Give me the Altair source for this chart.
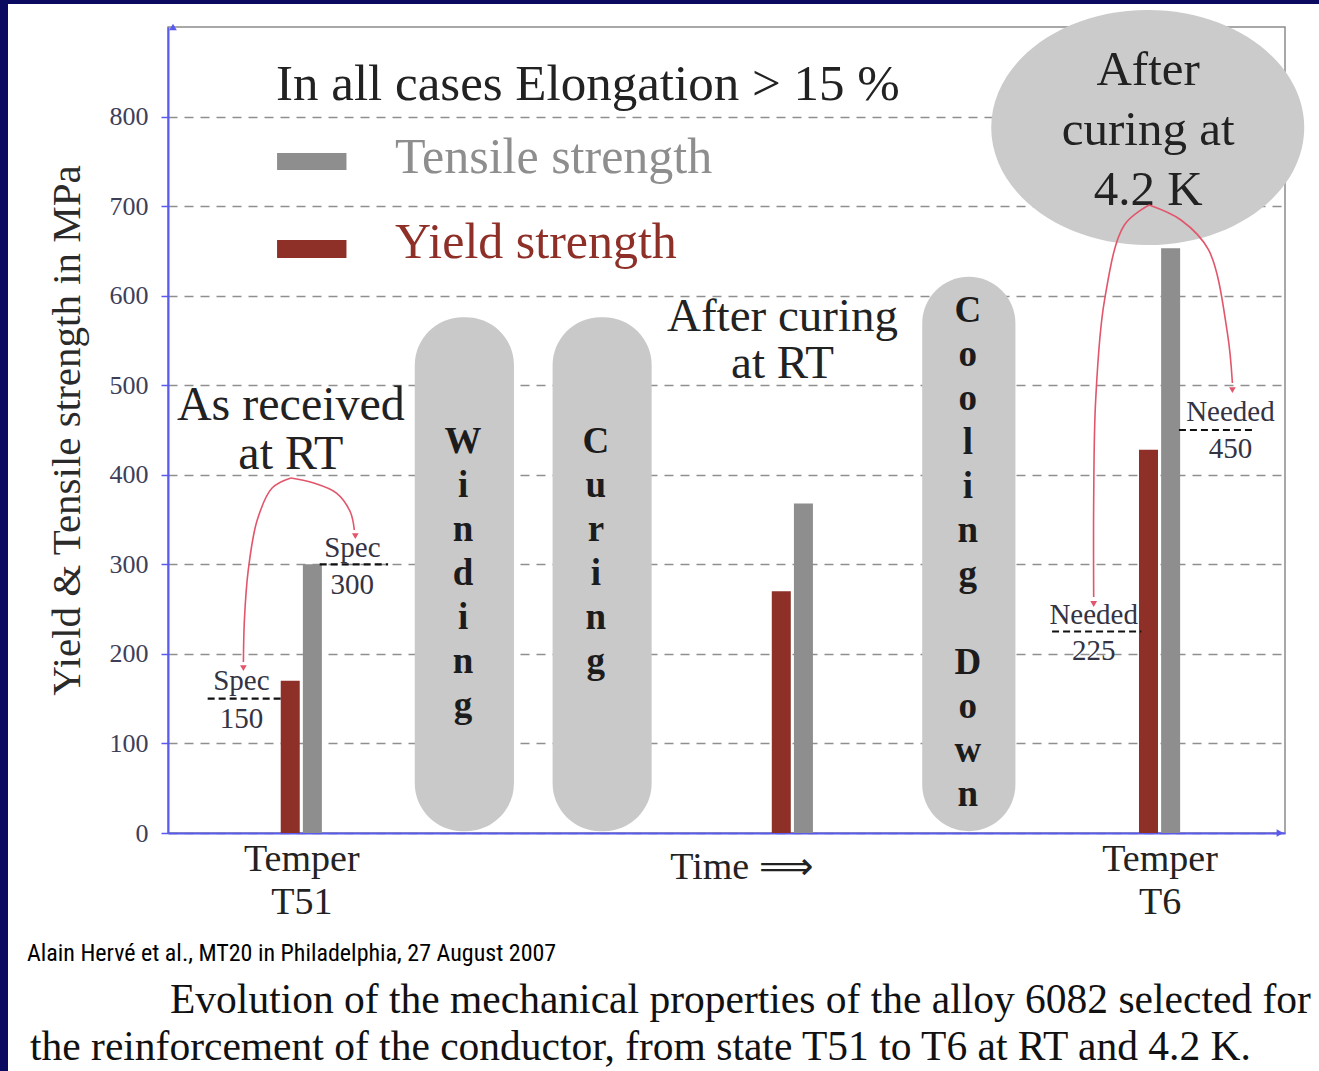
import json

import altair as alt
import pandas as pd

# ---------------------------------------------------------------------------
# Mechanical properties of alloy 6082 along the conductor manufacturing route
# ---------------------------------------------------------------------------
stage_names = ["Temper T51", "After curing at RT", "Temper T6"]
stage_time = [1.159, 5.595, 8.912]          # position on the time axis
yield_mpa = [170, 270, 428]
tensile_mpa = [300, 368, 653]

series_names = ["Yield strength", "Tensile strength"]
series_colors = ["#8e2f28", "#8e8e8e"]
series_text_colors = ["#8e2f2a", "#8c8c8c"]
bar_shift = [-0.1, 0.1]

tick_labels = {"T51": ["Temper", "T51"], "T6": ["Temper", "T6"]}
y_ticks = [0, 100, 200, 300, 400, 500, 600, 700, 800]

# Specification / requirement levels (MPa)
req_word = ["Spec", "Spec", "Needed", "Needed"]
req_value = [150, 300, 225, 450]
req_from = [0.313, 1.325, 7.941, 9.087]
req_to = [1.003, 1.943, 8.747, 9.776]
req_text_t = [0.618, 1.620, 8.317, 9.552]
req_word_v = [159.7, 308.2, 233.4, 460.0]
req_num_v = [117.2, 266.9, 193.2, 418.7]

# Process steps between the measurements
step_names = ["Winding", "Curing", "Cooling Down"]
step_t0 = [2.184, 3.429, 6.768]
step_t1 = [3.080, 4.324, 7.610]
step_top = [576, 576, 621]

# Words written letter by letter inside the step pills
step_words = ["Winding", "Curing", "Cooling", "Down"]
word_t = [2.62, 3.82, 7.18, 7.18]
word_v = [424.3, 424.3, 570.6, 177.5]

# Stage captions
stage_captions = ["As received\nat RT", "After curing\nat RT", "After\ncuring at\n4.2 K"]
caption_t = [1.065, 5.506, 8.809]
caption_v = [461.1, 560.5, 835.2]
caption_size = [48, 47, 49]
caption_line_height = [49, 47, 60]

bubble_t, bubble_v = 8.805, 787.7

# Legend block
legend_title = "In all cases Elongation > 15 %"
legend_title_t, legend_title_v = 0.931, 818.4
legend_text_t = [2.005, 2.005]
legend_text_v = [642.0, 736.9]
swatch_t0, swatch_t1 = 0.940, 1.567
swatch_v0 = [642.0, 740.3]
swatch_v1 = [662.1, 759.3]

# Red pointer curves (from the captions to the requirement levels)
arrow_id = [1] * 6 + [2] * 5 + [3] * 6 + [4] * 5
arrow_t = [1.065, 0.895, 0.761, 0.680, 0.645, 0.636,
           1.065, 1.271, 1.477, 1.602, 1.638,
           8.818, 8.594, 8.415, 8.335, 8.317, 8.317,
           8.818, 9.105, 9.355, 9.525, 9.570]
arrow_v = [396.4, 385.2, 349.5, 293.7, 237.8, 190.9,
           396.4, 390.8, 379.6, 358.4, 338.3,
           701.2, 678.9, 595.1, 483.5, 371.8, 263.5,
           701.2, 684.5, 651.0, 558.3, 502.5]
tip_t = [0.636, 1.647, 8.317, 9.570]
tip_v = [184.2, 331.6, 255.7, 494.6]

footer_note = "Alain Hervé et al., MT20 in Philadelphia, 27 August 2007"
caption_lines = [
    "Evolution of the mechanical properties of the alloy 6082 selected for",
    "the reinforcement of the conductor, from state T51 to T6 at RT and 4.2 K.",
]

SERIF = "Liberation Serif"
INK = "#222222"
AXIS_BLUE = "#5a5aee"
ARROW_RED = "#e2566c"
PILL_GREY = "#c9c9c9"
NAVY = "#0a0a60"

X_SCALE = alt.Scale(domain=[0, 10], nice=False, zero=False)
Y_SCALE = alt.Scale(domain=[0, 900], nice=False, zero=False)

label_expr = (
    f"datum.value < {stage_time[1]} ? {json.dumps(tick_labels['T51'])} "
    f": {json.dumps(tick_labels['T6'])}"
)

X_AXIS = alt.Axis(
    values=[stage_time[0], stage_time[2]],
    labelExpr=label_expr,
    grid=False,
    ticks=False,
    tickSize=0,
    domainColor=AXIS_BLUE,
    domainWidth=2,
    labelFont=SERIF,
    labelFontSize=38,
    labelLineHeight=43,
    labelPadding=7,
    labelColor=INK,
    labelOverlap=False,
    labelFlush=False,
    title="Time ⟹",
    titleFont=SERIF,
    titleFontSize=38,
    titleFontWeight="normal",
    titleColor=INK,
    titleX=573,
    titleY=45,
    titleBaseline="alphabetic",
)

Y_AXIS = alt.Axis(
    values=y_ticks,
    grid=True,
    gridDash=[9, 7],
    gridColor="#8f8f8f",
    gridWidth=1.3,
    domainColor=AXIS_BLUE,
    domainWidth=2,
    tickColor=AXIS_BLUE,
    tickSize=7,
    tickWidth=1.5,
    labelFont=SERIF,
    labelFontSize=26,
    labelColor="#3e3e58",
    labelPadding=13,
    title="Yield & Tensile strength in MPa",
    titleFont=SERIF,
    titleFontSize=41,
    titleFontWeight="normal",
    titleColor="#2a2a2a",
    titlePadding=21,
)


def xq(field):
    return alt.X(f"{field}:Q", scale=X_SCALE, axis=X_AXIS)


def yq(field):
    return alt.Y(f"{field}:Q", scale=Y_SCALE, axis=Y_AXIS)


# --- bars -------------------------------------------------------------------
bar_rows = []
for i, stage in enumerate(stage_names):
    for j, series in enumerate(series_names):
        bar_rows.append({
            "stage": stage,
            "series": series,
            "t": stage_time[i] + bar_shift[j],
            "v": (yield_mpa if j == 0 else tensile_mpa)[i],
        })
bars_df = pd.DataFrame(bar_rows)

bars = alt.Chart(bars_df).mark_bar(size=19).encode(
    x=xq("t"),
    y=yq("v"),
    color=alt.Color(
        "series:N",
        scale=alt.Scale(domain=series_names, range=series_colors),
        legend=None,
    ),
)

# --- process-step pills -----------------------------------------------------
steps_df = pd.DataFrame({
    "name": step_names,
    "t0": step_t0,
    "t1": step_t1,
    "top": step_top,
    "bottom": [2] * len(step_names),
})
pills = alt.Chart(steps_df).mark_rect(cornerRadius=48, color=PILL_GREY).encode(
    x=xq("t0"), x2="t1", y=yq("bottom"), y2="top"
)

words_df = pd.DataFrame({
    "letters": ["\n".join(w) for w in step_words],
    "t": word_t,
    "v": word_v,
})
pill_letters = alt.Chart(words_df).mark_text(
    font=SERIF, fontSize=37, fontWeight="bold", color="#1c1c1c",
    align="center", baseline="alphabetic", lineBreak="\n", lineHeight=44,
).encode(x=xq("t"), y=yq("v"), text="letters:N")

# --- 4.2 K bubble ------------------------------------------------------------
ELLIPSE = (
    "M -1 0 C -1 -0.415 -0.552 -0.751 0 -0.751 "
    "C 0.552 -0.751 1 -0.415 1 0 "
    "C 1 0.415 0.552 0.751 0 0.751 "
    "C -0.552 0.751 -1 0.415 -1 0 Z"
)
bubble = alt.Chart(pd.DataFrame({"t": [bubble_t], "v": [bubble_v]})).mark_point(
    shape=ELLIPSE, filled=True, size=313 ** 2, color="#cbcbcb", opacity=1, strokeWidth=0
).encode(x=xq("t"), y=yq("v"))

# --- stage captions -----------------------------------------------------------
captions_df = pd.DataFrame({"text": stage_captions, "t": caption_t, "v": caption_v})
caption_layers = [
    alt.Chart(captions_df.iloc[[i]]).mark_text(
        font=SERIF, fontSize=caption_size[i], color=INK, align="center",
        baseline="alphabetic", lineBreak="\n", lineHeight=caption_line_height[i],
    ).encode(x=xq("t"), y=yq("v"), text="text:N")
    for i in range(len(stage_captions))
]

# --- requirement levels ------------------------------------------------------
req_df = pd.DataFrame({
    "word": req_word, "value": req_value, "t0": req_from, "t1": req_to,
    "tt": req_text_t, "wv": req_word_v, "nv": req_num_v,
    "num": [str(v) for v in req_value],
})
req_lines = alt.Chart(req_df).mark_rule(
    color="#111111", strokeWidth=2.2, strokeDash=[7, 4]
).encode(x=xq("t0"), x2="t1", y=yq("value"))
req_words = alt.Chart(req_df).mark_text(
    font=SERIF, fontSize=29, color="#333344", align="center", baseline="alphabetic"
).encode(x=xq("tt"), y=yq("wv"), text="word:N")
req_nums = alt.Chart(req_df).mark_text(
    font=SERIF, fontSize=29, color="#333344", align="center", baseline="alphabetic"
).encode(x=xq("tt"), y=yq("nv"), text="num:N")

# --- legend block ---------------------------------------------------------------
legend_df = pd.DataFrame({
    "series": series_names, "t": legend_text_t, "v": legend_text_v,
    "v0": swatch_v0, "v1": swatch_v1,
    "t0": [swatch_t0] * 2, "t1": [swatch_t1] * 2,
})
legend_swatches = alt.Chart(legend_df).mark_rect().encode(
    x=xq("t0"), x2="t1", y=yq("v0"), y2="v1",
    color=alt.Color("series:N", scale=alt.Scale(domain=series_names, range=series_colors), legend=None),
)
legend_labels = alt.Chart(legend_df).mark_text(
    font=SERIF, fontSize=50, align="left", baseline="alphabetic"
).encode(
    x=xq("t"), y=yq("v"), text="series:N",
    color=alt.Color("series:N", scale=alt.Scale(domain=series_names, range=series_text_colors), legend=None),
)
legend_head = alt.Chart(pd.DataFrame({"text": [legend_title], "t": [legend_title_t], "v": [legend_title_v]})).mark_text(
    font=SERIF, fontSize=51, color=INK, align="left", baseline="alphabetic"
).encode(x=xq("t"), y=yq("v"), text="text:N")

# --- red pointers ---------------------------------------------------------------
arrows_df = pd.DataFrame({"id": arrow_id, "t": arrow_t, "v": arrow_v})
arrows_df["seq"] = range(len(arrows_df))
arrow_lines = alt.Chart(arrows_df).mark_line(
    color=ARROW_RED, strokeWidth=1.6, interpolate="catmull-rom"
).encode(x=xq("t"), y=yq("v"), detail="id:N", order="seq:Q")
arrow_tips = alt.Chart(pd.DataFrame({"t": tip_t, "v": tip_v})).mark_point(
    shape="triangle-down", filled=True, size=45, color=ARROW_RED, opacity=1
).encode(x=xq("t"), y=yq("v"))

# --- axis arrowheads --------------------------------------------------------------
axis_heads = alt.Chart(pd.DataFrame({
    "t": [0, 10], "v": [900, 0], "shape": ["triangle-up", "triangle-right"],
})).mark_point(filled=True, size=60, color=AXIS_BLUE, opacity=1).encode(
    x=xq("t"), y=yq("v"),
    shape=alt.Shape("shape:N", scale=None),
)

# --- slide frame and notes ---------------------------------------------------------
frame_left = alt.Chart().mark_rect(color=NAVY).encode(
    x=alt.value(-168), x2=alt.value(-160), y=alt.value(-27), y2=alt.value(1044)
)
frame_top = alt.Chart().mark_rect(color=NAVY).encode(
    x=alt.value(-168), x2=alt.value(1151), y=alt.value(-27), y2=alt.value(-23)
)
note = alt.Chart(pd.DataFrame({"text": [footer_note]})).mark_text(
    font="Liberation Sans Narrow, Roboto Condensed, Liberation Sans", fontSize=24,
    color="#000000", align="left", baseline="alphabetic",
).encode(x=alt.value(-141), y=alt.value(934), text="text:N")
caption1 = alt.Chart(pd.DataFrame({"text": [caption_lines[0]]})).mark_text(
    font=SERIF, fontSize=41.5, color="#111111", align="left", baseline="alphabetic",
).encode(x=alt.value(2), y=alt.value(986), text="text:N")
caption2 = alt.Chart(pd.DataFrame({"text": [caption_lines[1]]})).mark_text(
    font=SERIF, fontSize=41.5, color="#111111", align="left", baseline="alphabetic",
).encode(x=alt.value(-138), y=alt.value(1033), text="text:N")

chart = alt.layer(
    bars,
    pills,
    bubble,
    legend_swatches,
    legend_labels,
    legend_head,
    pill_letters,
    *caption_layers,
    req_lines,
    req_words,
    req_nums,
    arrow_lines,
    arrow_tips,
    axis_heads,
    frame_left,
    frame_top,
    note,
    caption1,
    caption2,
).properties(
    width=1117,
    height=806,
    autosize="none",
    padding={"left": 168, "top": 27, "right": 34, "bottom": 238},
    background="white",
).configure_view(
    stroke="#8c8c8c", strokeWidth=1.5
)

chart.save("out.html", embed_options={"renderer": "svg", "actions": False})
